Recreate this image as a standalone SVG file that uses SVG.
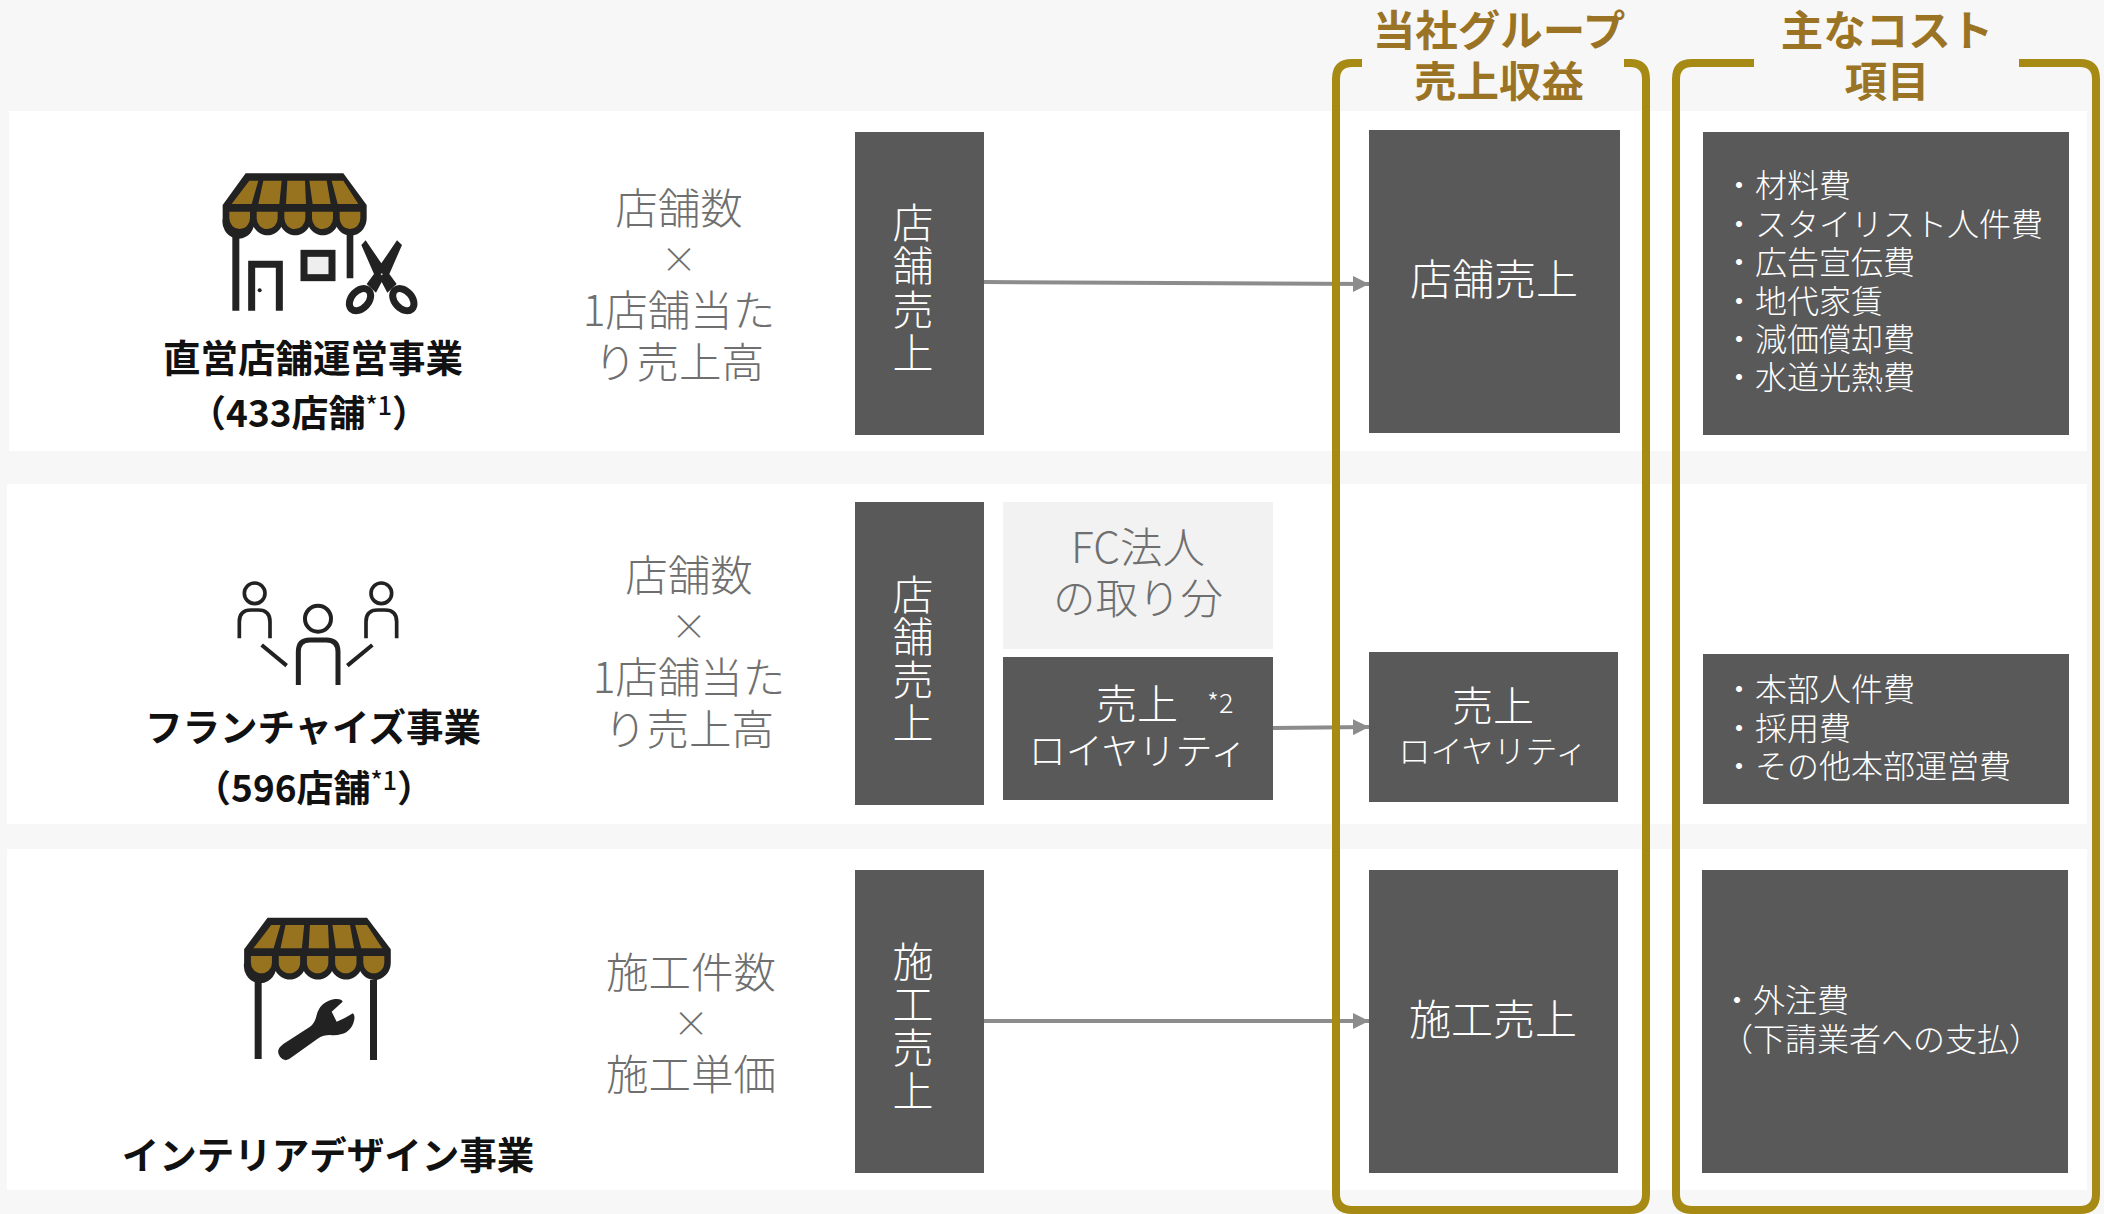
<svg xmlns="http://www.w3.org/2000/svg" xmlns:xlink="http://www.w3.org/1999/xlink" width="2104" height="1214" viewBox="0 0 2104 1214">
<style>
text{font-family:"Noto Sans CJK JP","Noto Sans",sans-serif}
.row{fill:#fff}
.dk{fill:#595959}
.lt{fill:#f2f2f2}
.w{fill:#fff;font-weight:300;text-anchor:middle}
.wl{fill:#fff;font-weight:300}
.g{fill:#6f6f6f;font-weight:300;text-anchor:middle;font-size:42.500px}
.b{fill:#111;font-weight:700;text-anchor:middle}
.t{fill:#9a7424;font-weight:700;text-anchor:middle;font-size:42.500px}
.v{font-size:41px}
.c{font-size:32px}
.conn{stroke:#8c8c8c;stroke-width:4;fill:none;marker-end:url(#ah)}
.br{fill:none;stroke:#a68a14;stroke-width:8}
.gold{fill:#97731f}
.ink{fill:#222}
.ln{stroke:#222;fill:none}
</style>
<defs>
<marker id="ah" markerUnits="userSpaceOnUse" markerWidth="16" markerHeight="16" refX="16" refY="8" orient="auto"><path d="M0 0L16 8L0 16Z" fill="#8c8c8c"/></marker>
<g id="awning">
<path class="ink" d="M197 70H490L560 165V205A48 52 0 0 1 470 230A48 52 0 0 1 387 230A48 52 0 0 1 304 230A48 52 0 0 1 221 230A48 52 0 0 1 128 205V165Z"/>
<path class="gold" d="M155 162L208 92H235L215 162ZM235 162L250 92H305L298 162ZM318 162L322 92H375L378 162ZM398 162L388 92H440L452 162ZM473 162L455 92H490L535 162Z"/>
<path class="gold" d="M148 185H210V205A31 32 0 0 1 148 205ZM230 185H293V205A31.500 32 0 0 1 230 205ZM313 185H376V205A31.500 32 0 0 1 313 205ZM396 185H459V205A31.500 32 0 0 1 396 205ZM479 185H541V205A31 32 0 0 1 479 205Z"/>
</g>
</defs>
<rect width="2104" height="1214" fill="#f7f7f7"/>
<rect class="row" x="9" y="111" width="2078" height="340"/>
<rect class="row" x="7" y="484" width="2080" height="340"/>
<rect class="row" x="7" y="849" width="2080" height="341"/>

<g id="connectors">
<path class="conn" d="M984 282L1369 284"/>
<path class="conn" d="M1273 728L1369 727"/>
<path class="conn" d="M984 1021H1369"/>
</g>

<g id="icon-shop" transform="translate(180 150) scale(.33333)">
<use xlink:href="#awning" href="#awning"/>
<path class="ink" d="M157 250H178V482H157ZM500 250H520V385H500Z"/>
<path class="ln" stroke-width="21" d="M215 482V343H298V482"/>
<circle class="ink" cx="239" cy="421" r="6"/>
<rect x="372" y="310" width="84" height="73" fill="#eee" stroke="#222" stroke-width="21"/>
<path class="ink" d="M544 285L557 271L604 340L651 271L666 285L628 372L650 402L622 428L605 396L588 428L560 402L582 372Z"/>
<circle cx="605" cy="373" r="3" fill="#ccc"/>
<ellipse class="ln" stroke-width="21" cx="540" cy="449" rx="38" ry="26" transform="rotate(-48 540 449)"/>
<ellipse class="ln" stroke-width="21" cx="670" cy="449" rx="38" ry="26" transform="rotate(48 670 449)"/>
</g>

<g id="icon-people" transform="translate(200 560) scale(.33333)">
<g class="ln" stroke="#2b2b2b">
<circle cx="164" cy="100" r="31" stroke-width="11"/>
<circle cx="544" cy="100" r="31" stroke-width="11"/>
<circle cx="354" cy="176" r="39" stroke-width="12"/>
<path stroke-width="11" d="M118 235V185Q118 150 153 150H175Q210 150 210 185V235"/>
<path stroke-width="11" d="M498 235V185Q498 150 533 150H555Q590 150 590 185V235"/>
<path stroke-width="15" d="M295 375V275Q295 240 330 240H379Q414 240 414 275V375"/>
<path stroke-width="12" d="M185 255L260 317M517 255L442 317"/>
</g>
</g>

<g id="icon-wrench" transform="translate(220 900) scale(.33333)">
<use xlink:href="#awning" href="#awning" transform="translate(-58 -17) scale(1.0185 1)"/>
<path class="ink" d="M104 240H125V477H104ZM450 240H471V480H450Z"/>
<path class="ink" d="M190 432L270 380Q285 370 290 345Q300 305 345 297Q365 295 368 305L335 335L350 365Q385 350 398 340Q408 345 400 370Q385 410 330 405Q310 405 295 415L215 472Q195 490 180 470Q165 450 190 432Z"/>
</g>

<g id="titles">
<text class="t" x="1499" y="46"><tspan x="1499">当社グループ</tspan><tspan x="1499" dy="51">売上収益</tspan></text>
<text class="t" x="1887" y="46"><tspan x="1887">主なコスト</tspan><tspan x="1887" dy="51">項目</tspan></text>
</g>
<g id="brackets">
<path class="br" d="M1362 63H1352Q1336 63 1336 79V1194Q1336 1210 1352 1210H1630Q1646 1210 1646 1194V79Q1646 63 1630 63H1624"/>
<path class="br" d="M1754 63H1692Q1676 63 1676 79V1194Q1676 1210 1692 1210H2080Q2096 1210 2096 1194V79Q2096 63 2080 63H2019"/>
</g>

<g id="biz1">
<text class="b" x="313" y="372" font-size="37.500">直営店舗運営事業</text>
<text class="b" x="309" y="427" font-size="37">（433店舗<tspan font-size="25" dy="-12" font-weight="500">*1</tspan><tspan dy="12">）</tspan></text>
</g>
<g id="biz2">
<text class="b" x="313" y="741" font-size="37.500">フランチャイズ事業</text>
<text class="b" x="314" y="802" font-size="37">（596店舗<tspan font-size="25" dy="-12" font-weight="500">*1</tspan><tspan dy="12">）</tspan></text>
</g>
<g id="biz3">
<text class="b" x="328" y="1169" font-size="37.500">インテリアデザイン事業</text>
</g>

<g id="calc1">
<text class="g" y="224"><tspan x="679">店舗数</tspan><tspan x="679" dy="49" font-size="36">×</tspan><tspan x="679" dy="53">1店舗当た</tspan><tspan x="679" dy="52">り売上高</tspan></text>
</g>
<g id="calc2">
<text class="g" y="591"><tspan x="689">店舗数</tspan><tspan x="689" dy="49" font-size="36">×</tspan><tspan x="689" dy="53">1店舗当た</tspan><tspan x="689" dy="52">り売上高</tspan></text>
</g>
<g id="calc3">
<text class="g" y="988"><tspan x="691">施工件数</tspan><tspan x="691" dy="49" font-size="36">×</tspan><tspan x="691" dy="53">施工単価</tspan></text>
</g>

<g id="rev1">
<rect class="dk" x="855" y="132" width="129" height="303"/>
<text class="w v" y="238"><tspan x="913">店</tspan><tspan x="913" dy="43">舗</tspan><tspan x="913" dy="44">売</tspan><tspan x="913" dy="43">上</tspan></text>
</g>
<g id="rev2">
<rect class="dk" x="855" y="502" width="129" height="303"/>
<text class="w v" y="610"><tspan x="913">店</tspan><tspan x="913" dy="42">舗</tspan><tspan x="913" dy="43">売</tspan><tspan x="913" dy="43">上</tspan></text>
</g>
<g id="rev3">
<rect class="dk" x="855" y="870" width="129" height="303"/>
<text class="w v" y="977"><tspan x="913">施</tspan><tspan x="913" dy="43">工</tspan><tspan x="913" dy="43">売</tspan><tspan x="913" dy="43">上</tspan></text>
</g>

<g id="fc">
<rect class="lt" x="1003" y="502" width="270" height="147"/>
<text class="g" y="563"><tspan x="1138">FC法人</tspan><tspan x="1138" dy="51">の取り分</tspan></text>
</g>
<g id="royalty">
<rect class="dk" x="1003" y="657" width="270" height="143"/>
<text class="w" x="1137" y="719" font-size="41">売上</text>
<text class="wl" x="1207" y="713" font-size="27">*2</text>
<text class="w" x="1138" y="765" font-size="37">ロイヤリティ</text>
</g>

<g id="g1">
<rect class="dk" x="1369" y="130" width="251" height="303"/>
<text class="w" x="1494" y="295" font-size="42">店舗売上</text>
</g>
<g id="g2">
<rect class="dk" x="1369" y="652" width="249" height="150"/>
<text class="w" x="1493" y="721" font-size="41">売上</text>
<text class="w" x="1493" y="763" font-size="32">ロイヤリティ</text>
</g>
<g id="g3">
<rect class="dk" x="1369" y="870" width="249" height="303"/>
<text class="w" x="1493" y="1035" font-size="42">施工売上</text>
</g>

<g id="cost1">
<rect class="dk" x="1703" y="132" width="366" height="303"/>
<text class="wl c" y="197"><tspan x="1723">・材料費</tspan><tspan x="1723" dy="39">・スタイリスト人件費</tspan><tspan x="1723" dy="38">・広告宣伝費</tspan><tspan x="1723" dy="39">・地代家賃</tspan><tspan x="1723" dy="38">・減価償却費</tspan><tspan x="1723" dy="38">・水道光熱費</tspan></text>
</g>
<g id="cost2">
<rect class="dk" x="1703" y="654" width="366" height="150"/>
<text class="wl c" y="701"><tspan x="1723">・本部人件費</tspan><tspan x="1723" dy="39">・採用費</tspan><tspan x="1723" dy="38">・その他本部運営費</tspan></text>
</g>
<g id="cost3">
<rect class="dk" x="1702" y="870" width="366" height="303"/>
<text class="wl c" y="1012"><tspan x="1721">・外注費</tspan><tspan x="1721" dy="39">（下請業者への支払）</tspan></text>
</g>
</svg>
